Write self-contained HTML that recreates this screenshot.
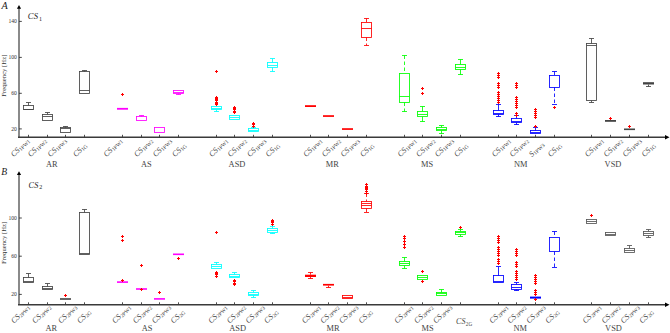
<!DOCTYPE html>
<html><head><meta charset="utf-8"><style>
html,body{margin:0;padding:0;background:#fff;width:670px;height:333px;overflow:hidden;font-family:"Liberation Serif",serif}
svg{display:block}
</style></head><body>
<svg width="670" height="333" viewBox="0 0 670 333" font-family="Liberation Serif, serif"><path d="M19 7.90V137.30" stroke="#8a8a8a" stroke-width="2"/>
<path d="M16.9 8.70L19 4.90L21.1 8.70Z" fill="#000"/>
<path d="M18 137.30H666" stroke="#3a3a3a" stroke-width="1.5"/>
<path d="M665 135.00L669.5 137.30L665 139.60Z" fill="#000"/>
<path d="M28.5 134.80V137.30" stroke="#3a3a3a" stroke-width="0.9"/>
<path d="M47.5 134.80V137.30" stroke="#3a3a3a" stroke-width="0.9"/>
<path d="M65.5 134.80V137.30" stroke="#3a3a3a" stroke-width="0.9"/>
<path d="M84.5 134.80V137.30" stroke="#3a3a3a" stroke-width="0.9"/>
<path d="M122.5 134.80V137.30" stroke="#3a3a3a" stroke-width="0.9"/>
<path d="M141.5 134.80V137.30" stroke="#3a3a3a" stroke-width="0.9"/>
<path d="M159.5 134.80V137.30" stroke="#3a3a3a" stroke-width="0.9"/>
<path d="M178.5 134.80V137.30" stroke="#3a3a3a" stroke-width="0.9"/>
<path d="M216.5 134.80V137.30" stroke="#3a3a3a" stroke-width="0.9"/>
<path d="M234.5 134.80V137.30" stroke="#3a3a3a" stroke-width="0.9"/>
<path d="M253.5 134.80V137.30" stroke="#3a3a3a" stroke-width="0.9"/>
<path d="M272.5 134.80V137.30" stroke="#3a3a3a" stroke-width="0.9"/>
<path d="M310.5 134.80V137.30" stroke="#3a3a3a" stroke-width="0.9"/>
<path d="M328.5 134.80V137.30" stroke="#3a3a3a" stroke-width="0.9"/>
<path d="M347.5 134.80V137.30" stroke="#3a3a3a" stroke-width="0.9"/>
<path d="M366.5 134.80V137.30" stroke="#3a3a3a" stroke-width="0.9"/>
<path d="M404.5 134.80V137.30" stroke="#3a3a3a" stroke-width="0.9"/>
<path d="M422.5 134.80V137.30" stroke="#3a3a3a" stroke-width="0.9"/>
<path d="M441.5 134.80V137.30" stroke="#3a3a3a" stroke-width="0.9"/>
<path d="M460.5 134.80V137.30" stroke="#3a3a3a" stroke-width="0.9"/>
<path d="M498.5 134.80V137.30" stroke="#3a3a3a" stroke-width="0.9"/>
<path d="M516.5 134.80V137.30" stroke="#3a3a3a" stroke-width="0.9"/>
<path d="M535.5 134.80V137.30" stroke="#3a3a3a" stroke-width="0.9"/>
<path d="M554.5 134.80V137.30" stroke="#3a3a3a" stroke-width="0.9"/>
<path d="M591.5 134.80V137.30" stroke="#3a3a3a" stroke-width="0.9"/>
<path d="M610.5 134.80V137.30" stroke="#3a3a3a" stroke-width="0.9"/>
<path d="M629.5 134.80V137.30" stroke="#3a3a3a" stroke-width="0.9"/>
<path d="M648.5 134.80V137.30" stroke="#3a3a3a" stroke-width="0.9"/>
<path d="M19 21.40H21.8" stroke="#333" stroke-width="0.9"/>
<text x="16.8" y="23.30" font-size="5.6" text-anchor="end" fill="#333">140</text>
<path d="M19 57.40H21.8" stroke="#333" stroke-width="0.9"/>
<text x="16.8" y="59.30" font-size="5.6" text-anchor="end" fill="#333">100</text>
<path d="M19 93.30H21.8" stroke="#333" stroke-width="0.9"/>
<text x="16.8" y="95.20" font-size="5.6" text-anchor="end" fill="#333">60</text>
<path d="M19 128.90H21.8" stroke="#333" stroke-width="0.9"/>
<text x="16.8" y="130.80" font-size="5.6" text-anchor="end" fill="#333">20</text>
<rect x="23.5" y="105.5" width="10" height="4.0" fill="none" stroke="#444444" stroke-width="0.85"/><path d="M23.5 109.5H33.5" stroke="#444444" stroke-width="0.85"/><path d="M28.5 102.5V105.5" stroke="#444444" stroke-width="0.85"/><path d="M26.0 102.5H31.0" stroke="#444444" stroke-width="0.85"/>
<rect x="42.5" y="114.5" width="10" height="6.0" fill="none" stroke="#444444" stroke-width="0.85"/><path d="M42.5 116.5H52.5" stroke="#444444" stroke-width="0.85"/><path d="M47.5 112.5V114.5" stroke="#444444" stroke-width="0.85"/><path d="M45.0 112.5H50.0" stroke="#444444" stroke-width="0.85"/>
<rect x="60.5" y="127.5" width="10" height="5.0" fill="none" stroke="#444444" stroke-width="0.85"/><path d="M60.5 128.5H70.5" stroke="#444444" stroke-width="0.85"/><path d="M65.5 126.5V127.5" stroke="#444444" stroke-width="0.85"/><path d="M63.0 126.5H68.0" stroke="#444444" stroke-width="0.85"/>
<rect x="79.5" y="71.5" width="10" height="22.0" fill="none" stroke="#444444" stroke-width="0.85"/><path d="M79.5 90.5H89.5" stroke="#444444" stroke-width="0.85"/><path d="M84.5 70.5V71.5" stroke="#444444" stroke-width="0.85"/><path d="M82.0 70.5H87.0" stroke="#444444" stroke-width="0.85"/>
<rect x="117.0" y="107.90" width="11" height="1.80" fill="#ff00ff"/><path d="M121.0 94.5H124.0M122.5 93.0V96.0" stroke="#ff0000" stroke-width="1.0"/>
<rect x="136.5" y="116.5" width="10" height="4.0" fill="none" stroke="#ff00ff" stroke-width="0.85"/><path d="M141.5 115.5V116.5" stroke="#ff00ff" stroke-width="0.85"/><path d="M139.0 115.5H144.0" stroke="#ff00ff" stroke-width="0.85"/>
<rect x="154.5" y="127.5" width="10" height="5.0" fill="none" stroke="#ff00ff" stroke-width="0.85"/>
<rect x="173.5" y="90.5" width="10" height="3.0" fill="none" stroke="#ff00ff" stroke-width="0.85"/><path d="M173.5 92.5H183.5" stroke="#ff00ff" stroke-width="0.85"/><path d="M178.5 93.5V94.5" stroke="#ff00ff" stroke-width="0.85"/><path d="M176.0 94.5H181.0" stroke="#ff00ff" stroke-width="0.85"/>
<rect x="211.5" y="106.5" width="10" height="3.0" fill="none" stroke="#00ffff" stroke-width="0.85"/><path d="M211.5 108.5H221.5" stroke="#00ffff" stroke-width="0.85"/><path d="M216.5 109.5V111.5" stroke="#00ffff" stroke-width="0.85"/><path d="M214.0 111.5H219.0" stroke="#00ffff" stroke-width="0.85"/><path d="M215.0 97.5H218.0M216.5 96.0V99.0" stroke="#ff0000" stroke-width="1.0"/><path d="M215.0 98.5H218.0M216.5 97.0V100.0" stroke="#ff0000" stroke-width="1.0"/><path d="M215.0 99.5H218.0M216.5 98.0V101.0" stroke="#ff0000" stroke-width="1.0"/><path d="M215.0 100.5H218.0M216.5 99.0V102.0" stroke="#ff0000" stroke-width="1.0"/><path d="M215.0 102.5H218.0M216.5 101.0V104.0" stroke="#ff0000" stroke-width="1.0"/><path d="M215.0 103.5H218.0M216.5 102.0V105.0" stroke="#ff0000" stroke-width="1.0"/><path d="M215.0 104.5H218.0M216.5 103.0V106.0" stroke="#ff0000" stroke-width="1.0"/><path d="M215.0 71.5H218.0M216.5 70.0V73.0" stroke="#ff0000" stroke-width="1.0"/>
<rect x="229.5" y="115.5" width="10" height="4.0" fill="none" stroke="#00ffff" stroke-width="0.85"/><path d="M229.5 117.5H239.5" stroke="#00ffff" stroke-width="0.85"/><path d="M233.0 107.5H236.0M234.5 106.0V109.0" stroke="#ff0000" stroke-width="1.0"/><path d="M233.0 108.5H236.0M234.5 107.0V110.0" stroke="#ff0000" stroke-width="1.0"/><path d="M233.0 109.5H236.0M234.5 108.0V111.0" stroke="#ff0000" stroke-width="1.0"/><path d="M233.0 111.5H236.0M234.5 110.0V113.0" stroke="#ff0000" stroke-width="1.0"/><path d="M233.0 112.5H236.0M234.5 111.0V114.0" stroke="#ff0000" stroke-width="1.0"/>
<rect x="248.5" y="128.5" width="10" height="3.0" fill="none" stroke="#00ffff" stroke-width="0.85"/><path d="M248.5 130.5H258.5" stroke="#00ffff" stroke-width="0.85"/><path d="M253.5 127.5V128.5" stroke="#00ffff" stroke-width="0.85"/><path d="M251.0 127.5H256.0" stroke="#00ffff" stroke-width="0.85"/><path d="M252.0 123.5H255.0M253.5 122.0V125.0" stroke="#ff0000" stroke-width="1.0"/><path d="M252.0 124.5H255.0M253.5 123.0V126.0" stroke="#ff0000" stroke-width="1.0"/><path d="M252.0 126.5H255.0M253.5 125.0V128.0" stroke="#ff0000" stroke-width="1.0"/>
<rect x="267.5" y="62.5" width="10" height="5.0" fill="none" stroke="#00ffff" stroke-width="0.85"/><path d="M267.5 65.5H277.5" stroke="#00ffff" stroke-width="0.85"/><path d="M272.5 58.5V62.5" stroke="#00ffff" stroke-width="0.85"/><path d="M270.0 58.5H275.0" stroke="#00ffff" stroke-width="0.85"/><path d="M272.5 67.5V71.5" stroke="#00ffff" stroke-width="0.85"/><path d="M270.0 71.5H275.0" stroke="#00ffff" stroke-width="0.85"/>
<rect x="305.0" y="105.20" width="11" height="1.80" fill="#ff0000"/>
<rect x="323.0" y="115.20" width="11" height="1.70" fill="#ff0000"/>
<rect x="342.0" y="128.20" width="11" height="1.70" fill="#ff0000"/>
<rect x="361.5" y="22.5" width="10" height="15.0" fill="none" stroke="#ff0000" stroke-width="0.85"/><path d="M361.5 28.5H371.5" stroke="#ff0000" stroke-width="0.85"/><path d="M366.5 18.5V22.5" stroke="#ff0000" stroke-width="0.85" stroke-dasharray="3.5,2.5"/><path d="M364.0 18.5H369.0" stroke="#ff0000" stroke-width="0.85"/><path d="M366.5 37.5V45.5" stroke="#ff0000" stroke-width="0.85" stroke-dasharray="3.5,2.5"/><path d="M364.0 45.5H369.0" stroke="#ff0000" stroke-width="0.85"/>
<rect x="399.5" y="73.5" width="10" height="29.0" fill="none" stroke="#00ff00" stroke-width="0.85"/><path d="M399.5 96.5H409.5" stroke="#00ff00" stroke-width="0.85"/><path d="M404.5 55.5V73.5" stroke="#00ff00" stroke-width="0.85" stroke-dasharray="3.5,2.5"/><path d="M402.0 55.5H407.0" stroke="#00ff00" stroke-width="0.85"/><path d="M404.5 102.5V111.5" stroke="#00ff00" stroke-width="0.85" stroke-dasharray="3.5,2.5"/><path d="M402.0 111.5H407.0" stroke="#00ff00" stroke-width="0.85"/>
<rect x="417.5" y="111.5" width="10" height="5.0" fill="none" stroke="#00ff00" stroke-width="0.85"/><path d="M417.5 114.5H427.5" stroke="#00ff00" stroke-width="0.85"/><path d="M422.5 106.5V111.5" stroke="#00ff00" stroke-width="0.85"/><path d="M420.0 106.5H425.0" stroke="#00ff00" stroke-width="0.85"/><path d="M422.5 116.5V121.5" stroke="#00ff00" stroke-width="0.85"/><path d="M420.0 121.5H425.0" stroke="#00ff00" stroke-width="0.85"/><path d="M421.0 88.5H424.0M422.5 87.0V90.0" stroke="#ff0000" stroke-width="1.0"/><path d="M421.0 93.5H424.0M422.5 92.0V95.0" stroke="#ff0000" stroke-width="1.0"/>
<rect x="436.5" y="127.5" width="10" height="3.0" fill="none" stroke="#00ff00" stroke-width="0.85"/><path d="M436.5 129.5H446.5" stroke="#00ff00" stroke-width="0.85"/><path d="M441.5 125.5V127.5" stroke="#00ff00" stroke-width="0.85"/><path d="M439.0 125.5H444.0" stroke="#00ff00" stroke-width="0.85"/><path d="M441.5 130.5V133.5" stroke="#00ff00" stroke-width="0.85"/><path d="M439.0 133.5H444.0" stroke="#00ff00" stroke-width="0.85"/>
<rect x="455.5" y="64.5" width="10" height="5.0" fill="none" stroke="#00ff00" stroke-width="0.85"/><path d="M455.5 67.5H465.5" stroke="#00ff00" stroke-width="0.85"/><path d="M460.5 59.5V64.5" stroke="#00ff00" stroke-width="0.85"/><path d="M458.0 59.5H463.0" stroke="#00ff00" stroke-width="0.85"/><path d="M460.5 69.5V74.5" stroke="#00ff00" stroke-width="0.85"/><path d="M458.0 74.5H463.0" stroke="#00ff00" stroke-width="0.85"/>
<rect x="493.5" y="110.5" width="10" height="4.0" fill="none" stroke="#0000ff" stroke-width="0.85"/><path d="M493.5 113.5H503.5" stroke="#0000ff" stroke-width="0.85"/><path d="M498.5 104.5V110.5" stroke="#0000ff" stroke-width="0.85"/><path d="M496.0 104.5H501.0" stroke="#0000ff" stroke-width="0.85"/><path d="M498.5 114.5V116.5" stroke="#0000ff" stroke-width="0.85"/><path d="M496.0 116.5H501.0" stroke="#0000ff" stroke-width="0.85"/><path d="M497.0 73.5H500.0M498.5 72.0V75.0" stroke="#ff0000" stroke-width="1.0"/><path d="M497.0 75.5H500.0M498.5 74.0V77.0" stroke="#ff0000" stroke-width="1.0"/><path d="M497.0 77.5H500.0M498.5 76.0V79.0" stroke="#ff0000" stroke-width="1.0"/><path d="M497.0 83.5H500.0M498.5 82.0V85.0" stroke="#ff0000" stroke-width="1.0"/><path d="M497.0 85.5H500.0M498.5 84.0V87.0" stroke="#ff0000" stroke-width="1.0"/><path d="M497.0 87.5H500.0M498.5 86.0V89.0" stroke="#ff0000" stroke-width="1.0"/><path d="M497.0 92.5H500.0M498.5 91.0V94.0" stroke="#ff0000" stroke-width="1.0"/><path d="M497.0 94.5H500.0M498.5 93.0V96.0" stroke="#ff0000" stroke-width="1.0"/><path d="M497.0 96.5H500.0M498.5 95.0V98.0" stroke="#ff0000" stroke-width="1.0"/><path d="M497.0 98.5H500.0M498.5 97.0V100.0" stroke="#ff0000" stroke-width="1.0"/><path d="M497.0 100.5H500.0M498.5 99.0V102.0" stroke="#ff0000" stroke-width="1.0"/><path d="M497.0 102.5H500.0M498.5 101.0V104.0" stroke="#ff0000" stroke-width="1.0"/>
<rect x="511.5" y="118.5" width="10" height="4.0" fill="none" stroke="#0000ff" stroke-width="0.85"/><path d="M511.5 121.5H521.5" stroke="#0000ff" stroke-width="0.85"/><path d="M516.5 115.5V118.5" stroke="#0000ff" stroke-width="0.85"/><path d="M514.0 115.5H519.0" stroke="#0000ff" stroke-width="0.85"/><path d="M516.5 122.5V124.5" stroke="#0000ff" stroke-width="0.85"/><path d="M514.0 124.5H519.0" stroke="#0000ff" stroke-width="0.85"/><path d="M515.0 83.5H518.0M516.5 82.0V85.0" stroke="#ff0000" stroke-width="1.0"/><path d="M515.0 85.5H518.0M516.5 84.0V87.0" stroke="#ff0000" stroke-width="1.0"/><path d="M515.0 87.5H518.0M516.5 86.0V89.0" stroke="#ff0000" stroke-width="1.0"/><path d="M515.0 97.5H518.0M516.5 96.0V99.0" stroke="#ff0000" stroke-width="1.0"/><path d="M515.0 99.5H518.0M516.5 98.0V101.0" stroke="#ff0000" stroke-width="1.0"/><path d="M515.0 101.5H518.0M516.5 100.0V103.0" stroke="#ff0000" stroke-width="1.0"/><path d="M515.0 103.5H518.0M516.5 102.0V105.0" stroke="#ff0000" stroke-width="1.0"/><path d="M515.0 105.5H518.0M516.5 104.0V107.0" stroke="#ff0000" stroke-width="1.0"/><path d="M515.0 107.5H518.0M516.5 106.0V109.0" stroke="#ff0000" stroke-width="1.0"/><path d="M515.0 113.5H518.0M516.5 112.0V115.0" stroke="#ff0000" stroke-width="1.0"/><path d="M515.0 115.5H518.0M516.5 114.0V117.0" stroke="#ff0000" stroke-width="1.0"/>
<rect x="530.5" y="130.5" width="10" height="3.0" fill="none" stroke="#0000ff" stroke-width="0.85"/><path d="M530.5 132.5H540.5" stroke="#0000ff" stroke-width="0.85"/><path d="M535.5 127.5V130.5" stroke="#0000ff" stroke-width="0.85"/><path d="M533.0 127.5H538.0" stroke="#0000ff" stroke-width="0.85"/><path d="M534.0 109.5H537.0M535.5 108.0V111.0" stroke="#ff0000" stroke-width="1.0"/><path d="M534.0 111.5H537.0M535.5 110.0V113.0" stroke="#ff0000" stroke-width="1.0"/><path d="M534.0 113.5H537.0M535.5 112.0V115.0" stroke="#ff0000" stroke-width="1.0"/><path d="M534.0 115.5H537.0M535.5 114.0V117.0" stroke="#ff0000" stroke-width="1.0"/><path d="M534.0 117.5H537.0M535.5 116.0V119.0" stroke="#ff0000" stroke-width="1.0"/><path d="M534.0 126.5H537.0M535.5 125.0V128.0" stroke="#ff0000" stroke-width="1.0"/>
<rect x="549.5" y="75.5" width="10" height="12.0" fill="none" stroke="#0000ff" stroke-width="0.85"/><path d="M554.5 71.5V75.5" stroke="#0000ff" stroke-width="0.85" stroke-dasharray="3.5,2.5"/><path d="M552.0 71.5H557.0" stroke="#0000ff" stroke-width="0.85"/><path d="M554.5 87.5V104.5" stroke="#0000ff" stroke-width="0.85" stroke-dasharray="3.5,2.5"/><path d="M552.0 104.5H557.0" stroke="#0000ff" stroke-width="0.85"/><path d="M553.0 107.5H556.0M554.5 106.0V109.0" stroke="#ff0000" stroke-width="1.0"/>
<rect x="586.5" y="43.5" width="10" height="57.0" fill="none" stroke="#444444" stroke-width="0.85"/><path d="M586.5 45.5H596.5" stroke="#444444" stroke-width="0.85"/><path d="M591.5 38.5V43.5" stroke="#444444" stroke-width="0.85"/><path d="M589.0 38.5H594.0" stroke="#444444" stroke-width="0.85"/><path d="M591.5 100.5V102.5" stroke="#444444" stroke-width="0.85"/><path d="M589.0 102.5H594.0" stroke="#444444" stroke-width="0.85"/>
<rect x="605.0" y="120.00" width="11" height="1.80" fill="#444444"/><path d="M609.0 118.5H612.0M610.5 117.0V120.0" stroke="#ff0000" stroke-width="1.0"/>
<rect x="624.0" y="128.50" width="11" height="1.60" fill="#444444"/><path d="M628.0 126.5H631.0M629.5 125.0V128.0" stroke="#ff0000" stroke-width="1.0"/>
<rect x="643.0" y="82.20" width="11" height="2.30" fill="#444444"/><path d="M648.5 84.5V86.5" stroke="#444444" stroke-width="0.85"/><path d="M646.0 86.5H651.0" stroke="#444444" stroke-width="0.85"/>
<path d="M19 174.30V304.80" stroke="#8a8a8a" stroke-width="2"/>
<path d="M16.9 175.10L19 171.30L21.1 175.10Z" fill="#000"/>
<path d="M18 304.80H666" stroke="#3a3a3a" stroke-width="1.5"/>
<path d="M665 302.50L669.5 304.80L665 307.10Z" fill="#000"/>
<path d="M28.5 302.30V304.80" stroke="#3a3a3a" stroke-width="0.9"/>
<path d="M47.5 302.30V304.80" stroke="#3a3a3a" stroke-width="0.9"/>
<path d="M65.5 302.30V304.80" stroke="#3a3a3a" stroke-width="0.9"/>
<path d="M84.5 302.30V304.80" stroke="#3a3a3a" stroke-width="0.9"/>
<path d="M122.5 302.30V304.80" stroke="#3a3a3a" stroke-width="0.9"/>
<path d="M141.5 302.30V304.80" stroke="#3a3a3a" stroke-width="0.9"/>
<path d="M159.5 302.30V304.80" stroke="#3a3a3a" stroke-width="0.9"/>
<path d="M178.5 302.30V304.80" stroke="#3a3a3a" stroke-width="0.9"/>
<path d="M216.5 302.30V304.80" stroke="#3a3a3a" stroke-width="0.9"/>
<path d="M234.5 302.30V304.80" stroke="#3a3a3a" stroke-width="0.9"/>
<path d="M253.5 302.30V304.80" stroke="#3a3a3a" stroke-width="0.9"/>
<path d="M272.5 302.30V304.80" stroke="#3a3a3a" stroke-width="0.9"/>
<path d="M310.5 302.30V304.80" stroke="#3a3a3a" stroke-width="0.9"/>
<path d="M328.5 302.30V304.80" stroke="#3a3a3a" stroke-width="0.9"/>
<path d="M347.5 302.30V304.80" stroke="#3a3a3a" stroke-width="0.9"/>
<path d="M366.5 302.30V304.80" stroke="#3a3a3a" stroke-width="0.9"/>
<path d="M404.5 302.30V304.80" stroke="#3a3a3a" stroke-width="0.9"/>
<path d="M422.5 302.30V304.80" stroke="#3a3a3a" stroke-width="0.9"/>
<path d="M441.5 302.30V304.80" stroke="#3a3a3a" stroke-width="0.9"/>
<path d="M460.5 302.30V304.80" stroke="#3a3a3a" stroke-width="0.9"/>
<path d="M498.5 302.30V304.80" stroke="#3a3a3a" stroke-width="0.9"/>
<path d="M516.5 302.30V304.80" stroke="#3a3a3a" stroke-width="0.9"/>
<path d="M535.5 302.30V304.80" stroke="#3a3a3a" stroke-width="0.9"/>
<path d="M554.5 302.30V304.80" stroke="#3a3a3a" stroke-width="0.9"/>
<path d="M591.5 302.30V304.80" stroke="#3a3a3a" stroke-width="0.9"/>
<path d="M610.5 302.30V304.80" stroke="#3a3a3a" stroke-width="0.9"/>
<path d="M629.5 302.30V304.80" stroke="#3a3a3a" stroke-width="0.9"/>
<path d="M648.5 302.30V304.80" stroke="#3a3a3a" stroke-width="0.9"/>
<path d="M19 218.00H21.8" stroke="#333" stroke-width="0.9"/>
<text x="16.8" y="219.90" font-size="5.6" text-anchor="end" fill="#333">100</text>
<path d="M19 256.20H21.8" stroke="#333" stroke-width="0.9"/>
<text x="16.8" y="258.10" font-size="5.6" text-anchor="end" fill="#333">60</text>
<path d="M19 294.40H21.8" stroke="#333" stroke-width="0.9"/>
<text x="16.8" y="296.30" font-size="5.6" text-anchor="end" fill="#333">20</text>
<rect x="23.5" y="277.5" width="10" height="5.0" fill="none" stroke="#444444" stroke-width="0.85"/><path d="M23.5 281.5H33.5" stroke="#444444" stroke-width="0.85"/><path d="M28.5 273.5V277.5" stroke="#444444" stroke-width="0.85"/><path d="M26.0 273.5H31.0" stroke="#444444" stroke-width="0.85"/>
<rect x="42.5" y="286.5" width="10" height="3.0" fill="none" stroke="#444444" stroke-width="0.85"/><path d="M42.5 288.5H52.5" stroke="#444444" stroke-width="0.85"/><path d="M47.5 283.5V286.5" stroke="#444444" stroke-width="0.85"/><path d="M45.0 283.5H50.0" stroke="#444444" stroke-width="0.85"/>
<rect x="60.0" y="298.20" width="11" height="1.60" fill="#444444"/><path d="M64.0 295.5H67.0M65.5 294.0V297.0" stroke="#ff0000" stroke-width="1.0"/>
<rect x="79.5" y="212.5" width="10" height="42.0" fill="none" stroke="#444444" stroke-width="0.85"/><path d="M79.5 253.5H89.5" stroke="#444444" stroke-width="0.85"/><path d="M84.5 209.5V212.5" stroke="#444444" stroke-width="0.85"/><path d="M82.0 209.5H87.0" stroke="#444444" stroke-width="0.85"/>
<rect x="117.0" y="281.30" width="11" height="1.60" fill="#ff00ff"/><path d="M121.0 236.5H124.0M122.5 235.0V238.0" stroke="#ff0000" stroke-width="1.0"/><path d="M121.0 240.5H124.0M122.5 239.0V242.0" stroke="#ff0000" stroke-width="1.0"/><path d="M121.0 280.5H124.0M122.5 279.0V282.0" stroke="#ff0000" stroke-width="1.0"/>
<rect x="136.0" y="288.20" width="11" height="1.60" fill="#ff00ff"/><path d="M140.0 265.5H143.0M141.5 264.0V267.0" stroke="#ff0000" stroke-width="1.0"/><path d="M140.0 289.5H143.0M141.5 288.0V291.0" stroke="#ff0000" stroke-width="1.0"/>
<rect x="154.0" y="298.10" width="11" height="1.60" fill="#ff00ff"/><path d="M158.0 292.5H161.0M159.5 291.0V294.0" stroke="#ff0000" stroke-width="1.0"/>
<rect x="173.0" y="253.50" width="11" height="1.60" fill="#ff00ff"/><path d="M177.0 258.5H180.0M178.5 257.0V260.0" stroke="#ff0000" stroke-width="1.0"/>
<rect x="211.5" y="264.5" width="10" height="4.0" fill="none" stroke="#00ffff" stroke-width="0.85"/><path d="M211.5 266.5H221.5" stroke="#00ffff" stroke-width="0.85"/><path d="M216.5 262.5V264.5" stroke="#00ffff" stroke-width="0.85"/><path d="M214.0 262.5H219.0" stroke="#00ffff" stroke-width="0.85"/><path d="M215.0 272.5H218.0M216.5 271.0V274.0" stroke="#ff0000" stroke-width="1.0"/><path d="M215.0 273.5H218.0M216.5 272.0V275.0" stroke="#ff0000" stroke-width="1.0"/><path d="M215.0 274.5H218.0M216.5 273.0V276.0" stroke="#ff0000" stroke-width="1.0"/><path d="M215.0 276.5H218.0M216.5 275.0V278.0" stroke="#ff0000" stroke-width="1.0"/><path d="M215.0 232.5H218.0M216.5 231.0V234.0" stroke="#ff0000" stroke-width="1.0"/>
<rect x="229.5" y="274.5" width="10" height="3.0" fill="none" stroke="#00ffff" stroke-width="0.85"/><path d="M229.5 276.5H239.5" stroke="#00ffff" stroke-width="0.85"/><path d="M234.5 272.5V274.5" stroke="#00ffff" stroke-width="0.85"/><path d="M232.0 272.5H237.0" stroke="#00ffff" stroke-width="0.85"/><path d="M233.0 280.5H236.0M234.5 279.0V282.0" stroke="#ff0000" stroke-width="1.0"/><path d="M233.0 281.5H236.0M234.5 280.0V283.0" stroke="#ff0000" stroke-width="1.0"/><path d="M233.0 283.5H236.0M234.5 282.0V285.0" stroke="#ff0000" stroke-width="1.0"/><path d="M233.0 284.5H236.0M234.5 283.0V286.0" stroke="#ff0000" stroke-width="1.0"/>
<rect x="248.5" y="292.5" width="10" height="3.0" fill="none" stroke="#00ffff" stroke-width="0.85"/><path d="M248.5 294.5H258.5" stroke="#00ffff" stroke-width="0.85"/><path d="M253.5 290.5V292.5" stroke="#00ffff" stroke-width="0.85"/><path d="M251.0 290.5H256.0" stroke="#00ffff" stroke-width="0.85"/><path d="M253.5 295.5V297.5" stroke="#00ffff" stroke-width="0.85"/><path d="M251.0 297.5H256.0" stroke="#00ffff" stroke-width="0.85"/>
<rect x="267.5" y="228.5" width="10" height="4.0" fill="none" stroke="#00ffff" stroke-width="0.85"/><path d="M267.5 230.5H277.5" stroke="#00ffff" stroke-width="0.85"/><path d="M272.5 226.5V228.5" stroke="#00ffff" stroke-width="0.85"/><path d="M270.0 226.5H275.0" stroke="#00ffff" stroke-width="0.85"/><path d="M272.5 232.5V233.5" stroke="#00ffff" stroke-width="0.85"/><path d="M270.0 233.5H275.0" stroke="#00ffff" stroke-width="0.85"/><path d="M271.0 220.5H274.0M272.5 219.0V222.0" stroke="#ff0000" stroke-width="1.0"/><path d="M271.0 221.5H274.0M272.5 220.0V223.0" stroke="#ff0000" stroke-width="1.0"/><path d="M271.0 222.5H274.0M272.5 221.0V224.0" stroke="#ff0000" stroke-width="1.0"/><path d="M271.0 224.5H274.0M272.5 223.0V226.0" stroke="#ff0000" stroke-width="1.0"/>
<rect x="305.0" y="274.70" width="11" height="2.30" fill="#ff0000"/><path d="M310.5 272.5V274.7" stroke="#ff0000" stroke-width="0.85"/><path d="M308.0 272.5H313.0" stroke="#ff0000" stroke-width="0.85"/><path d="M310.5 277.0V278.5" stroke="#ff0000" stroke-width="0.85"/><path d="M308.0 278.5H313.0" stroke="#ff0000" stroke-width="0.85"/>
<rect x="323.0" y="283.90" width="11" height="1.70" fill="#ff0000"/><path d="M328.5 285.6V287.5" stroke="#ff0000" stroke-width="0.85"/><path d="M326.0 287.5H331.0" stroke="#ff0000" stroke-width="0.85"/>
<rect x="342.5" y="295.5" width="10" height="3.0" fill="none" stroke="#ff0000" stroke-width="0.85"/><path d="M342.5 297.5H352.5" stroke="#ff0000" stroke-width="0.85"/>
<rect x="361.5" y="201.5" width="10" height="7.0" fill="none" stroke="#ff0000" stroke-width="0.85"/><path d="M361.5 203.5H371.5" stroke="#ff0000" stroke-width="0.85"/><path d="M361.5 205.5H371.5" stroke="#ff0000" stroke-width="0.85"/><path d="M366.5 193.5V201.5" stroke="#ff0000" stroke-width="0.85" stroke-dasharray="3.5,2.5"/><path d="M364.0 193.5H369.0" stroke="#ff0000" stroke-width="0.85"/><path d="M366.5 208.5V212.5" stroke="#ff0000" stroke-width="0.85" stroke-dasharray="3.5,2.5"/><path d="M364.0 212.5H369.0" stroke="#ff0000" stroke-width="0.85"/><path d="M365.0 184.5H368.0M366.5 183.0V186.0" stroke="#ff0000" stroke-width="1.0"/><path d="M365.0 186.5H368.0M366.5 185.0V188.0" stroke="#ff0000" stroke-width="1.0"/><path d="M365.0 187.5H368.0M366.5 186.0V189.0" stroke="#ff0000" stroke-width="1.0"/><path d="M365.0 188.5H368.0M366.5 187.0V190.0" stroke="#ff0000" stroke-width="1.0"/><path d="M365.0 189.5H368.0M366.5 188.0V191.0" stroke="#ff0000" stroke-width="1.0"/><path d="M365.0 191.5H368.0M366.5 190.0V193.0" stroke="#ff0000" stroke-width="1.0"/><path d="M365.0 193.5H368.0M366.5 192.0V195.0" stroke="#ff0000" stroke-width="1.0"/>
<rect x="399.5" y="261.5" width="10" height="4.0" fill="none" stroke="#00ff00" stroke-width="0.85"/><path d="M399.5 263.5H409.5" stroke="#00ff00" stroke-width="0.85"/><path d="M404.5 257.5V261.5" stroke="#00ff00" stroke-width="0.85"/><path d="M402.0 257.5H407.0" stroke="#00ff00" stroke-width="0.85"/><path d="M404.5 265.5V268.5" stroke="#00ff00" stroke-width="0.85"/><path d="M402.0 268.5H407.0" stroke="#00ff00" stroke-width="0.85"/><path d="M403.0 236.5H406.0M404.5 235.0V238.0" stroke="#ff0000" stroke-width="1.0"/><path d="M403.0 238.5H406.0M404.5 237.0V240.0" stroke="#ff0000" stroke-width="1.0"/><path d="M403.0 241.5H406.0M404.5 240.0V243.0" stroke="#ff0000" stroke-width="1.0"/><path d="M403.0 244.5H406.0M404.5 243.0V246.0" stroke="#ff0000" stroke-width="1.0"/><path d="M403.0 247.5H406.0M404.5 246.0V249.0" stroke="#ff0000" stroke-width="1.0"/>
<rect x="417.5" y="275.5" width="10" height="4.0" fill="none" stroke="#00ff00" stroke-width="0.85"/><path d="M417.5 277.5H427.5" stroke="#00ff00" stroke-width="0.85"/><path d="M421.0 271.5H424.0M422.5 270.0V273.0" stroke="#ff0000" stroke-width="1.0"/><path d="M421.0 281.5H424.0M422.5 280.0V283.0" stroke="#ff0000" stroke-width="1.0"/>
<rect x="436.5" y="292.5" width="10" height="3.0" fill="none" stroke="#00ff00" stroke-width="0.85"/><path d="M436.5 293.5H446.5" stroke="#00ff00" stroke-width="0.85"/><path d="M441.5 289.5V292.5" stroke="#00ff00" stroke-width="0.85"/><path d="M439.0 289.5H444.0" stroke="#00ff00" stroke-width="0.85"/>
<rect x="455.5" y="231.5" width="10" height="3.0" fill="none" stroke="#00ff00" stroke-width="0.85"/><path d="M455.5 232.5H465.5" stroke="#00ff00" stroke-width="0.85"/><path d="M460.5 229.5V231.5" stroke="#00ff00" stroke-width="0.85"/><path d="M458.0 229.5H463.0" stroke="#00ff00" stroke-width="0.85"/><path d="M460.5 234.5V236.5" stroke="#00ff00" stroke-width="0.85"/><path d="M458.0 236.5H463.0" stroke="#00ff00" stroke-width="0.85"/><path d="M459.0 227.5H462.0M460.5 226.0V229.0" stroke="#ff0000" stroke-width="1.0"/>
<rect x="493.5" y="275.5" width="10" height="7.0" fill="none" stroke="#0000ff" stroke-width="0.85"/><path d="M493.5 281.5H503.5" stroke="#0000ff" stroke-width="0.85"/><path d="M498.5 266.5V275.5" stroke="#0000ff" stroke-width="0.85"/><path d="M496.0 266.5H501.0" stroke="#0000ff" stroke-width="0.85"/><path d="M497.0 236.5H500.0M498.5 235.0V238.0" stroke="#ff0000" stroke-width="1.0"/><path d="M497.0 238.5H500.0M498.5 237.0V240.0" stroke="#ff0000" stroke-width="1.0"/><path d="M497.0 240.5H500.0M498.5 239.0V242.0" stroke="#ff0000" stroke-width="1.0"/><path d="M497.0 242.5H500.0M498.5 241.0V244.0" stroke="#ff0000" stroke-width="1.0"/><path d="M497.0 247.5H500.0M498.5 246.0V249.0" stroke="#ff0000" stroke-width="1.0"/><path d="M497.0 249.5H500.0M498.5 248.0V251.0" stroke="#ff0000" stroke-width="1.0"/><path d="M497.0 251.5H500.0M498.5 250.0V253.0" stroke="#ff0000" stroke-width="1.0"/><path d="M497.0 253.5H500.0M498.5 252.0V255.0" stroke="#ff0000" stroke-width="1.0"/><path d="M497.0 255.5H500.0M498.5 254.0V257.0" stroke="#ff0000" stroke-width="1.0"/><path d="M497.0 259.5H500.0M498.5 258.0V261.0" stroke="#ff0000" stroke-width="1.0"/><path d="M497.0 261.5H500.0M498.5 260.0V263.0" stroke="#ff0000" stroke-width="1.0"/><path d="M497.0 263.5H500.0M498.5 262.0V265.0" stroke="#ff0000" stroke-width="1.0"/>
<rect x="511.5" y="284.5" width="10" height="5.0" fill="none" stroke="#0000ff" stroke-width="0.85"/><path d="M511.5 287.5H521.5" stroke="#0000ff" stroke-width="0.85"/><path d="M516.5 282.5V284.5" stroke="#0000ff" stroke-width="0.85"/><path d="M514.0 282.5H519.0" stroke="#0000ff" stroke-width="0.85"/><path d="M516.5 289.5V290.5" stroke="#0000ff" stroke-width="0.85"/><path d="M514.0 290.5H519.0" stroke="#0000ff" stroke-width="0.85"/><path d="M515.0 249.5H518.0M516.5 248.0V251.0" stroke="#ff0000" stroke-width="1.0"/><path d="M515.0 251.5H518.0M516.5 250.0V253.0" stroke="#ff0000" stroke-width="1.0"/><path d="M515.0 253.5H518.0M516.5 252.0V255.0" stroke="#ff0000" stroke-width="1.0"/><path d="M515.0 255.5H518.0M516.5 254.0V257.0" stroke="#ff0000" stroke-width="1.0"/><path d="M515.0 262.5H518.0M516.5 261.0V264.0" stroke="#ff0000" stroke-width="1.0"/><path d="M515.0 264.5H518.0M516.5 263.0V266.0" stroke="#ff0000" stroke-width="1.0"/><path d="M515.0 266.5H518.0M516.5 265.0V268.0" stroke="#ff0000" stroke-width="1.0"/><path d="M515.0 271.5H518.0M516.5 270.0V273.0" stroke="#ff0000" stroke-width="1.0"/><path d="M515.0 273.5H518.0M516.5 272.0V275.0" stroke="#ff0000" stroke-width="1.0"/><path d="M515.0 275.5H518.0M516.5 274.0V277.0" stroke="#ff0000" stroke-width="1.0"/><path d="M515.0 277.5H518.0M516.5 276.0V279.0" stroke="#ff0000" stroke-width="1.0"/><path d="M515.0 279.5H518.0M516.5 278.0V281.0" stroke="#ff0000" stroke-width="1.0"/>
<rect x="530.0" y="296.60" width="11" height="2.00" fill="#0000ff"/><path d="M534.0 275.5H537.0M535.5 274.0V277.0" stroke="#ff0000" stroke-width="1.0"/><path d="M534.0 277.5H537.0M535.5 276.0V279.0" stroke="#ff0000" stroke-width="1.0"/><path d="M534.0 279.5H537.0M535.5 278.0V281.0" stroke="#ff0000" stroke-width="1.0"/><path d="M534.0 281.5H537.0M535.5 280.0V283.0" stroke="#ff0000" stroke-width="1.0"/><path d="M534.0 283.5H537.0M535.5 282.0V285.0" stroke="#ff0000" stroke-width="1.0"/><path d="M534.0 290.5H537.0M535.5 289.0V292.0" stroke="#ff0000" stroke-width="1.0"/><path d="M534.0 292.5H537.0M535.5 291.0V294.0" stroke="#ff0000" stroke-width="1.0"/><path d="M534.0 294.5H537.0M535.5 293.0V296.0" stroke="#ff0000" stroke-width="1.0"/><path d="M534.0 299.5H537.0M535.5 298.0V301.0" stroke="#ff0000" stroke-width="1.0"/>
<rect x="549.5" y="237.5" width="10" height="14.0" fill="none" stroke="#0000ff" stroke-width="0.85"/><path d="M554.5 231.5V237.5" stroke="#0000ff" stroke-width="0.85" stroke-dasharray="3.5,2.5"/><path d="M552.0 231.5H557.0" stroke="#0000ff" stroke-width="0.85"/><path d="M554.5 251.5V267.5" stroke="#0000ff" stroke-width="0.85" stroke-dasharray="3.5,2.5"/><path d="M552.0 267.5H557.0" stroke="#0000ff" stroke-width="0.85"/>
<rect x="586.5" y="219.5" width="10" height="4.0" fill="none" stroke="#555555" stroke-width="0.85"/><path d="M586.5 221.5H596.5" stroke="#555555" stroke-width="0.85"/><path d="M590.0 215.5H593.0M591.5 214.0V217.0" stroke="#ff0000" stroke-width="1.0"/>
<rect x="605.5" y="232.5" width="10" height="3.0" fill="none" stroke="#555555" stroke-width="0.85"/><path d="M605.5 234.5H615.5" stroke="#555555" stroke-width="0.85"/>
<rect x="624.5" y="248.5" width="10" height="4.0" fill="none" stroke="#555555" stroke-width="0.85"/><path d="M624.5 250.5H634.5" stroke="#555555" stroke-width="0.85"/><path d="M629.5 245.5V248.5" stroke="#555555" stroke-width="0.85"/><path d="M627.0 245.5H632.0" stroke="#555555" stroke-width="0.85"/>
<rect x="643.5" y="231.5" width="10" height="4.0" fill="none" stroke="#555555" stroke-width="0.85"/><path d="M643.5 233.5H653.5" stroke="#555555" stroke-width="0.85"/><path d="M648.5 229.5V231.5" stroke="#555555" stroke-width="0.85"/><path d="M646.0 229.5H651.0" stroke="#555555" stroke-width="0.85"/><path d="M648.5 235.5V237.5" stroke="#555555" stroke-width="0.85"/><path d="M646.0 237.5H651.0" stroke="#555555" stroke-width="0.85"/>
<text x="1.6" y="8.7" font-size="10.2" font-style="italic" fill="#222">A</text>
<text x="1.2" y="174.9" font-size="9.6" font-style="italic" fill="#222">B</text>
<text x="27.8" y="19.4" font-size="8.6" font-style="italic" fill="#222" letter-spacing="0.3">CS<tspan font-size="6" font-style="normal" dy="1.3" dx="0.6">1</tspan></text>
<text x="28.6" y="187.5" font-size="8.2" font-style="italic" fill="#222" letter-spacing="0.3">CS<tspan font-size="6" font-style="normal" dy="1.3" dx="0.6">2</tspan></text>
<text transform="translate(5.6 75.7) rotate(-90)" font-size="6.7" text-anchor="middle" fill="#333">Frequency [Hz]</text>
<text transform="translate(5.6 242.8) rotate(-90)" font-size="6.7" text-anchor="middle" fill="#333">Frequency [Hz]</text>
<text x="46.0" y="166.8" font-size="8.4" fill="#444">AR</text>
<text x="141.0" y="166.8" font-size="8.4" fill="#444">AS</text>
<text x="228.6" y="166.8" font-size="8.4" fill="#444">ASD</text>
<text x="325.8" y="166.8" font-size="8.4" fill="#444">MR</text>
<text x="421.1" y="166.8" font-size="8.4" fill="#444">MS</text>
<text x="514.0" y="166.8" font-size="8.4" fill="#444">NM</text>
<text x="604.6" y="166.8" font-size="8.4" fill="#444">VSD</text>
<text x="45.5" y="331.4" font-size="8.4" fill="#444">AR</text>
<text x="141.8" y="331.4" font-size="8.4" fill="#444">AS</text>
<text x="229.3" y="331.4" font-size="8.4" fill="#444">ASD</text>
<text x="326.6" y="331.4" font-size="8.4" fill="#444">MR</text>
<text x="421.5" y="331.4" font-size="8.4" fill="#444">MS</text>
<text x="513.4" y="331.4" font-size="8.4" fill="#444">NM</text>
<text x="605.1" y="331.4" font-size="8.4" fill="#444">VSD</text>
<text transform="translate(13.70 157.30) rotate(-45)" font-size="7.8" fill="#383838"><tspan font-style="italic" letter-spacing="0.2">CS</tspan><tspan font-size="5.4" dy="1.0">1PW1</tspan></text>
<text transform="translate(30.80 157.30) rotate(-45)" font-size="7.8" fill="#383838"><tspan font-style="italic" letter-spacing="0.2">CS</tspan><tspan font-size="5.4" dy="1.0">1PW2</tspan></text>
<text transform="translate(50.60 157.30) rotate(-45)" font-size="7.8" fill="#383838"><tspan font-style="italic" letter-spacing="0.2">CS</tspan><tspan font-size="5.4" dy="1.0">1PW3</tspan></text>
<text transform="translate(75.90 157.30) rotate(-45)" font-size="7.8" fill="#383838"><tspan font-style="italic" letter-spacing="0.2">CS</tspan><tspan font-size="5.4" dy="1.0">1G</tspan></text>
<text transform="translate(106.50 157.30) rotate(-45)" font-size="7.8" fill="#383838"><tspan font-style="italic" letter-spacing="0.2">CS</tspan><tspan font-size="5.4" dy="1.0">1PW1</tspan></text>
<text transform="translate(137.00 157.30) rotate(-45)" font-size="7.8" fill="#383838"><tspan font-style="italic" letter-spacing="0.2">CS</tspan><tspan font-size="5.4" dy="1.0">1PW2</tspan></text>
<text transform="translate(155.70 157.30) rotate(-45)" font-size="7.8" fill="#383838"><tspan font-style="italic" letter-spacing="0.2">CS</tspan><tspan font-size="5.4" dy="1.0">1PW3</tspan></text>
<text transform="translate(175.10 157.30) rotate(-45)" font-size="7.8" fill="#383838"><tspan font-style="italic" letter-spacing="0.2">CS</tspan><tspan font-size="5.4" dy="1.0">1G</tspan></text>
<text transform="translate(211.90 157.30) rotate(-45)" font-size="7.8" fill="#383838"><tspan font-style="italic" letter-spacing="0.2">CS</tspan><tspan font-size="5.4" dy="1.0">1PW1</tspan></text>
<text transform="translate(230.60 157.30) rotate(-45)" font-size="7.8" fill="#383838"><tspan font-style="italic" letter-spacing="0.2">CS</tspan><tspan font-size="5.4" dy="1.0">1PW2</tspan></text>
<text transform="translate(250.00 157.30) rotate(-45)" font-size="7.8" fill="#383838"><tspan font-style="italic" letter-spacing="0.2">CS</tspan><tspan font-size="5.4" dy="1.0">1PW3</tspan></text>
<text transform="translate(268.60 157.30) rotate(-45)" font-size="7.8" fill="#383838"><tspan font-style="italic" letter-spacing="0.2">CS</tspan><tspan font-size="5.4" dy="1.0">1G</tspan></text>
<text transform="translate(306.20 157.30) rotate(-45)" font-size="7.8" fill="#383838"><tspan font-style="italic" letter-spacing="0.2">CS</tspan><tspan font-size="5.4" dy="1.0">1PW1</tspan></text>
<text transform="translate(324.80 157.30) rotate(-45)" font-size="7.8" fill="#383838"><tspan font-style="italic" letter-spacing="0.2">CS</tspan><tspan font-size="5.4" dy="1.0">1PW2</tspan></text>
<text transform="translate(343.50 157.30) rotate(-45)" font-size="7.8" fill="#383838"><tspan font-style="italic" letter-spacing="0.2">CS</tspan><tspan font-size="5.4" dy="1.0">1PW3</tspan></text>
<text transform="translate(362.90 157.30) rotate(-45)" font-size="7.8" fill="#383838"><tspan font-style="italic" letter-spacing="0.2">CS</tspan><tspan font-size="5.4" dy="1.0">1G</tspan></text>
<text transform="translate(400.40 157.30) rotate(-45)" font-size="7.8" fill="#383838"><tspan font-style="italic" letter-spacing="0.2">CS</tspan><tspan font-size="5.4" dy="1.0">1PW1</tspan></text>
<text transform="translate(419.10 157.30) rotate(-45)" font-size="7.8" fill="#383838"><tspan font-style="italic" letter-spacing="0.2">CS</tspan><tspan font-size="5.4" dy="1.0">1PW2</tspan></text>
<text transform="translate(437.70 157.30) rotate(-45)" font-size="7.8" fill="#383838"><tspan font-style="italic" letter-spacing="0.2">CS</tspan><tspan font-size="5.4" dy="1.0">1PW3</tspan></text>
<text transform="translate(456.90 157.30) rotate(-45)" font-size="7.8" fill="#383838"><tspan font-style="italic" letter-spacing="0.2">CS</tspan><tspan font-size="5.4" dy="1.0">1G</tspan></text>
<text transform="translate(494.70 157.30) rotate(-45)" font-size="7.8" fill="#383838"><tspan font-style="italic" letter-spacing="0.2">CS</tspan><tspan font-size="5.4" dy="1.0">1PW1</tspan></text>
<text transform="translate(512.60 157.30) rotate(-45)" font-size="7.8" fill="#383838"><tspan font-style="italic" letter-spacing="0.2">CS</tspan><tspan font-size="5.4" dy="1.0">1PW2</tspan></text>
<text transform="translate(532.00 157.30) rotate(-45)" font-size="7.8" fill="#383838"><tspan font-style="italic" letter-spacing="0.2">S</tspan><tspan font-size="5.4" dy="1.0">1PW3</tspan></text>
<text transform="translate(550.70 157.30) rotate(-45)" font-size="7.8" fill="#383838"><tspan font-style="italic" letter-spacing="0.2">CS</tspan><tspan font-size="5.4" dy="1.0">1G</tspan></text>
<text transform="translate(587.70 157.30) rotate(-45)" font-size="7.8" fill="#383838"><tspan font-style="italic" letter-spacing="0.2">CS</tspan><tspan font-size="5.4" dy="1.0">1PW1</tspan></text>
<text transform="translate(606.60 157.30) rotate(-45)" font-size="7.8" fill="#383838"><tspan font-style="italic" letter-spacing="0.2">CS</tspan><tspan font-size="5.4" dy="1.0">1PW2</tspan></text>
<text transform="translate(625.40 157.30) rotate(-45)" font-size="7.8" fill="#383838"><tspan font-style="italic" letter-spacing="0.2">CS</tspan><tspan font-size="5.4" dy="1.0">1PW3</tspan></text>
<text transform="translate(644.40 157.30) rotate(-45)" font-size="7.8" fill="#383838"><tspan font-style="italic" letter-spacing="0.2">CS</tspan><tspan font-size="5.4" dy="1.0">1G</tspan></text>
<text transform="translate(13.90 323.80) rotate(-45)" font-size="7.8" fill="#383838"><tspan font-style="italic" letter-spacing="0.2">CS</tspan><tspan font-size="5.4" dy="1.0">2PW1</tspan></text>
<text transform="translate(35.10 323.80) rotate(-45)" font-size="7.8" fill="#383838"><tspan font-style="italic" letter-spacing="0.2">CS</tspan><tspan font-size="5.4" dy="1.0">2PW2</tspan></text>
<text transform="translate(61.00 323.80) rotate(-45)" font-size="7.8" fill="#383838"><tspan font-style="italic" letter-spacing="0.2">CS</tspan><tspan font-size="5.4" dy="1.0">2PW3</tspan></text>
<text transform="translate(79.90 323.80) rotate(-45)" font-size="7.8" fill="#383838"><tspan font-style="italic" letter-spacing="0.2">CS</tspan><tspan font-size="5.4" dy="1.0">2G</tspan></text>
<text transform="translate(115.00 323.80) rotate(-45)" font-size="7.8" fill="#383838"><tspan font-style="italic" letter-spacing="0.2">CS</tspan><tspan font-size="5.4" dy="1.0">2PW1</tspan></text>
<text transform="translate(135.70 323.80) rotate(-45)" font-size="7.8" fill="#383838"><tspan font-style="italic" letter-spacing="0.2">CS</tspan><tspan font-size="5.4" dy="1.0">2PW2</tspan></text>
<text transform="translate(154.70 323.80) rotate(-45)" font-size="7.8" fill="#383838"><tspan font-style="italic" letter-spacing="0.2">CS</tspan><tspan font-size="5.4" dy="1.0">2PW3</tspan></text>
<text transform="translate(173.60 323.80) rotate(-45)" font-size="7.8" fill="#383838"><tspan font-style="italic" letter-spacing="0.2">CS</tspan><tspan font-size="5.4" dy="1.0">2G</tspan></text>
<text transform="translate(211.20 323.80) rotate(-45)" font-size="7.8" fill="#383838"><tspan font-style="italic" letter-spacing="0.2">CS</tspan><tspan font-size="5.4" dy="1.0">2PW1</tspan></text>
<text transform="translate(229.80 323.80) rotate(-45)" font-size="7.8" fill="#383838"><tspan font-style="italic" letter-spacing="0.2">CS</tspan><tspan font-size="5.4" dy="1.0">2PW2</tspan></text>
<text transform="translate(248.50 323.80) rotate(-45)" font-size="7.8" fill="#383838"><tspan font-style="italic" letter-spacing="0.2">CS</tspan><tspan font-size="5.4" dy="1.0">2PW3</tspan></text>
<text transform="translate(267.10 323.80) rotate(-45)" font-size="7.8" fill="#383838"><tspan font-style="italic" letter-spacing="0.2">CS</tspan><tspan font-size="5.4" dy="1.0">2G</tspan></text>
<text transform="translate(304.70 323.80) rotate(-45)" font-size="7.8" fill="#383838"><tspan font-style="italic" letter-spacing="0.2">CS</tspan><tspan font-size="5.4" dy="1.0">2PW1</tspan></text>
<text transform="translate(323.30 323.80) rotate(-45)" font-size="7.8" fill="#383838"><tspan font-style="italic" letter-spacing="0.2">CS</tspan><tspan font-size="5.4" dy="1.0">2PW2</tspan></text>
<text transform="translate(342.00 323.80) rotate(-45)" font-size="7.8" fill="#383838"><tspan font-style="italic" letter-spacing="0.2">CS</tspan><tspan font-size="5.4" dy="1.0">2PW3</tspan></text>
<text transform="translate(361.40 323.80) rotate(-45)" font-size="7.8" fill="#383838"><tspan font-style="italic" letter-spacing="0.2">CS</tspan><tspan font-size="5.4" dy="1.0">2G</tspan></text>
<text transform="translate(397.30 323.80) rotate(-45)" font-size="7.8" fill="#383838"><tspan font-style="italic" letter-spacing="0.2">CS</tspan><tspan font-size="5.4" dy="1.0">2PW1</tspan></text>
<text transform="translate(417.10 323.80) rotate(-45)" font-size="7.8" fill="#383838"><tspan font-style="italic" letter-spacing="0.2">CS</tspan><tspan font-size="5.4" dy="1.0">2PW2</tspan></text>
<text transform="translate(436.00 323.80) rotate(-45)" font-size="7.8" fill="#383838"><tspan font-style="italic" letter-spacing="0.2">CS</tspan><tspan font-size="5.4" dy="1.0">2PW3</tspan></text>
<text transform="translate(492.30 323.80) rotate(-45)" font-size="7.8" fill="#383838"><tspan font-style="italic" letter-spacing="0.2">CS</tspan><tspan font-size="5.4" dy="1.0">2PW1</tspan></text>
<text transform="translate(510.30 323.80) rotate(-45)" font-size="7.8" fill="#383838"><tspan font-style="italic" letter-spacing="0.2">CS</tspan><tspan font-size="5.4" dy="1.0">2PW2</tspan></text>
<text transform="translate(529.30 323.80) rotate(-45)" font-size="7.8" fill="#383838"><tspan font-style="italic" letter-spacing="0.2">CS</tspan><tspan font-size="5.4" dy="1.0">2PW3</tspan></text>
<text transform="translate(548.20 323.80) rotate(-45)" font-size="7.8" fill="#383838"><tspan font-style="italic" letter-spacing="0.2">CS</tspan><tspan font-size="5.4" dy="1.0">2G</tspan></text>
<text transform="translate(585.50 323.80) rotate(-45)" font-size="7.8" fill="#383838"><tspan font-style="italic" letter-spacing="0.2">CS</tspan><tspan font-size="5.4" dy="1.0">2PW1</tspan></text>
<text transform="translate(604.40 323.80) rotate(-45)" font-size="7.8" fill="#383838"><tspan font-style="italic" letter-spacing="0.2">CS</tspan><tspan font-size="5.4" dy="1.0">2PW2</tspan></text>
<text transform="translate(623.40 323.80) rotate(-45)" font-size="7.8" fill="#383838"><tspan font-style="italic" letter-spacing="0.2">CS</tspan><tspan font-size="5.4" dy="1.0">2PW3</tspan></text>
<text transform="translate(642.30 323.80) rotate(-45)" font-size="7.8" fill="#383838"><tspan font-style="italic" letter-spacing="0.2">CS</tspan><tspan font-size="5.4" dy="1.0">2G</tspan></text>
<text x="456.0" y="324.2" font-size="8" font-style="italic" fill="#444" letter-spacing="0.2">CS<tspan font-size="5.2" font-style="normal" dy="1.4">2G</tspan></text></svg>
</body></html>
